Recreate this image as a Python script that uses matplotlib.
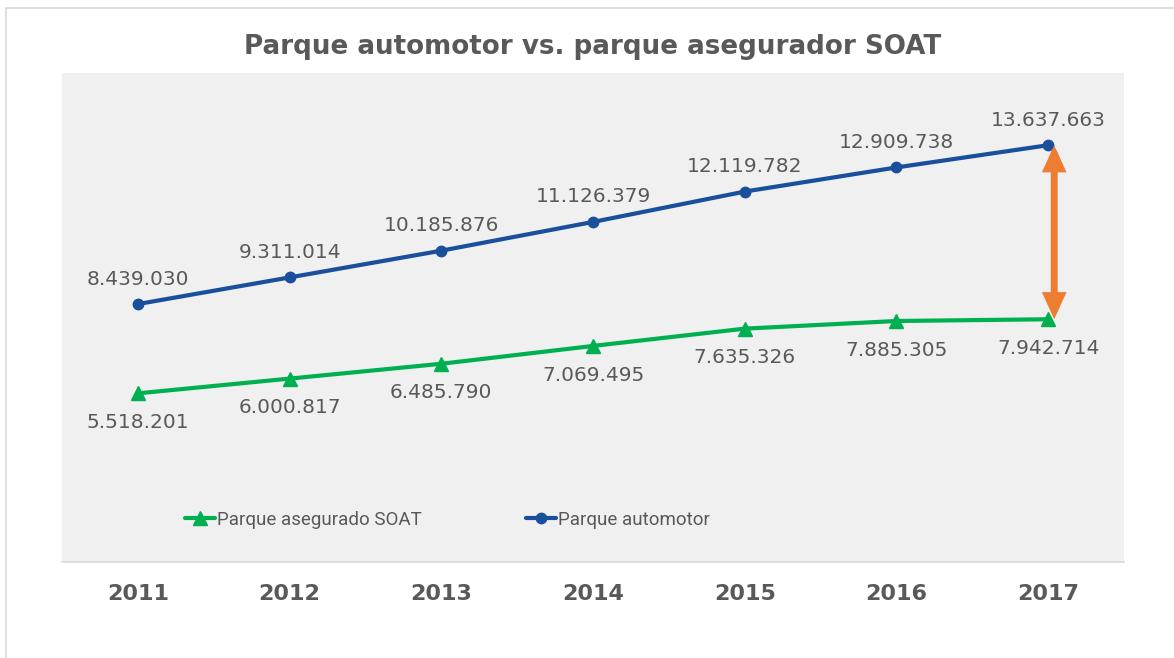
import matplotlib
matplotlib.use("Agg")
import matplotlib.pyplot as plt
from matplotlib.patches import Rectangle, FancyArrowPatch

years = ["2011", "2012", "2013", "2014", "2015", "2016", "2017"]
parque_automotor = [8439030, 9311014, 10185876, 11126379, 12119782, 12909738, 13637663]
parque_asegurado = [5518201, 6000817, 6485790, 7069495, 7635326, 7885305, 7942714]
title = "Parque automotor vs. parque asegurador SOAT"
label_asegurado = "Parque asegurado SOAT"
label_automotor = "Parque automotor"

BLUE = "#1A4F9B"
GREEN = "#00B050"
ORANGE = "#ED7D31"
GRAY = "#595959"

def fmt(v):
    return f"{v:,}".replace(",", ".")

fig = plt.figure(figsize=(11.74, 6.58), dpi=100)
fig.patch.set_facecolor("white")
# outer chart border (only left/top visible)
fig.patches.append(Rectangle((6 / 1174, -0.05), 1.2, 1 - 8 / 658 + 0.05,
                             transform=fig.transFigure, fill=False,
                             edgecolor="#D9D9D9", lw=1.2, zorder=0))

ax = fig.add_axes([62 / 1174, 1 - 562 / 658, 1062 / 1174, 489 / 658])
ax.set_facecolor("#F0F0F0")
x = list(range(len(years)))

ax.plot(x, parque_asegurado, color=GREEN, lw=3, marker="^", markersize=10,
        label=label_asegurado, zorder=3, solid_capstyle="round")
ax.plot(x, parque_automotor, color=BLUE, lw=3, marker="o", markersize=7.5,
        label=label_automotor, zorder=3, solid_capstyle="round")

for xi, v in zip(x, parque_automotor):
    ax.annotate(fmt(v), (xi, v), xytext=(0, 18), textcoords="offset points",
                ha="center", va="center", fontsize=14.5, color=GRAY,
                family="DejaVu Sans")
for xi, v in zip(x, parque_asegurado):
    ax.annotate(fmt(v), (xi, v), xytext=(0, -21), textcoords="offset points",
                ha="center", va="center", fontsize=14.5, color=GRAY,
                family="DejaVu Sans")

arrow = FancyArrowPatch((x[-1] + 0.04, parque_automotor[-1]),
                        (x[-1] + 0.04, parque_asegurado[-1]),
                        arrowstyle="<|-|>,head_length=11,head_width=5",
                        mutation_scale=1, lw=5, color=ORANGE,
                        shrinkA=0, shrinkB=0, zorder=4, joinstyle="miter")
ax.add_patch(arrow)

ax.set_xlim(-0.5, 6.5)
ax.set_ylim(0, 16000000)
ax.set_xticks(x)
ax.set_xticklabels(years, fontsize=16, fontweight="bold", color=GRAY,
                   family="DejaVu Sans")
ax.set_yticks([])
ax.tick_params(axis="x", length=0, pad=16)
for s in ["top", "left", "right"]:
    ax.spines[s].set_visible(False)
ax.spines["bottom"].set_color("#D9D9D9")
ax.spines["bottom"].set_linewidth(1.2)

ax.set_title(title, fontsize=18.8, fontweight="bold", color=GRAY,
             family="DejaVu Sans", pad=14)

leg = ax.legend(loc="center", bbox_to_anchor=(0.363, 0.086), ncol=2,
                frameon=False, handlelength=1.6, handletextpad=0.1,
                columnspacing=5.6,
                prop={"family": ["Liberation Sans Narrow", "Roboto", "DejaVu Sans"],
                      "size": 13.5})
for t in leg.get_texts():
    t.set_color(GRAY)

fig.savefig("out.png", dpi=100)
